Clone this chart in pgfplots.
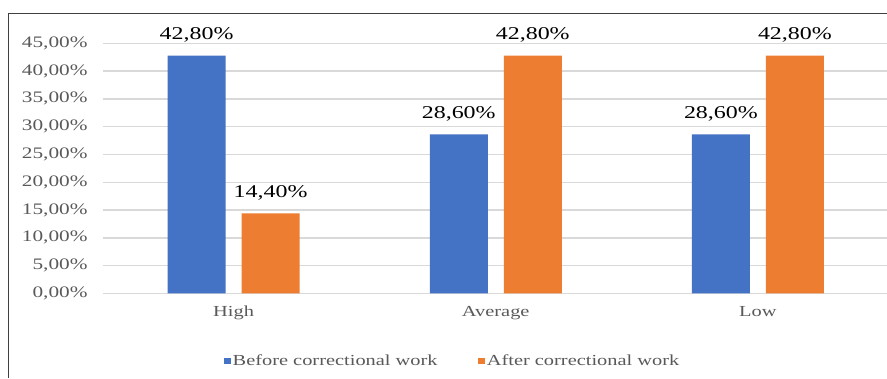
\documentclass[border=0pt]{standalone}
\usepackage{fontspec}
\setmainfont{Liberation Serif}[FakeStretch=1.33]
\usepackage{pgfplots}
\pgfplotsset{compat=1.18}
\definecolor{barblue}{HTML}{4472C4}
\definecolor{barorange}{HTML}{ED7D31}
\definecolor{gridgray}{HTML}{D9D9D9}
\definecolor{labelgray}{HTML}{595959}
\definecolor{framegray}{HTML}{404040}

\begin{document}
\begin{tikzpicture}
\useasboundingbox (0,0) rectangle (665.25pt,283.5pt);
\clip (0,0) rectangle (665.25pt,283.5pt);
% chart area frame (left and top edges)
\draw[framegray, line width=0.8pt] (6.2pt,0pt) -- (6.2pt,273.2pt) -- (665.25pt,273.2pt);
\begin{axis}[
  at={(76.875pt,63.375pt)}, anchor=south west,
  scale only axis, width=588.3pt, height=187.65pt,
  ybar, bar width=43.5pt,
  xmin=-0.5, xmax=2.492, ymin=0, ymax=45,
  xtick={0,1,2}, xticklabels={High,Average,Low},
  ytick={0,5,...,45},
  yticklabels={{0,00\%},{5,00\%},{10,00\%},{15,00\%},{20,00\%},{25,00\%},{30,00\%},{35,00\%},{40,00\%},{45,00\%}},
  ymajorgrids, grid style={gridgray, line width=1pt},
  axis line style={draw=none}, major tick length=0pt,
  yticklabel style={font=\fontsize{12}{14}\selectfont, text=labelgray, anchor=east, inner sep=0pt, xshift=-11pt},
  xticklabel style={font=\fontsize{11.5}{14}\selectfont, text=labelgray, anchor=base, inner sep=0pt, yshift=-16.9pt},
  point meta=explicit symbolic,
  nodes near coords,
  every node near coord/.append style={font=\fontsize{13.5}{16}\selectfont, text=black, anchor=base, inner sep=0pt, yshift=12pt},
  legend columns=2,
  legend image code/.code={\fill[#1] (0pt,-2.45pt) rectangle (4.9pt,2.45pt);},
  legend style={at={(0.4465,-0.27)}, anchor=center, draw=none, fill=none,
    font=\fontsize{11.5}{14}\selectfont, text=labelgray,
    nodes={inner xsep=1.5pt},
    /tikz/every even column/.append style={column sep=29pt}},
]
\addplot[fill=barblue, draw=none, bar shift=-27.75pt]
  coordinates {(0,42.8) [{42,80\%}] (1,28.6) [{28,60\%}] (2,28.6) [{28,60\%}]};
\addlegendentry{Before correctional work}
\addplot[fill=barorange, draw=none, bar shift=27.75pt]
  coordinates {(0,14.4) [{14,40\%}] (1,42.8) [{42,80\%}] (2,42.8) [{42,80\%}]};
\addlegendentry{After correctional work}
\end{axis}
\end{tikzpicture}
\end{document}
